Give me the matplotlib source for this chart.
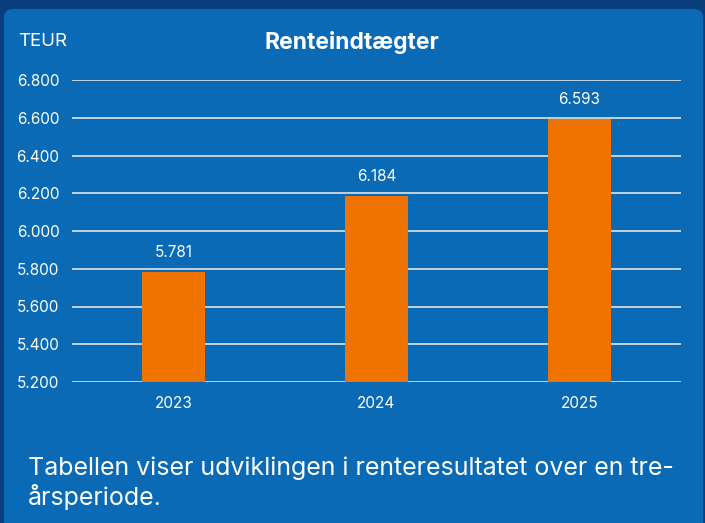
import matplotlib.pyplot as plt
from matplotlib.patches import FancyBboxPatch
from matplotlib.ticker import FuncFormatter

# data
years = ["2023", "2024", "2025"]
values = [5781, 6184, 6593]
y_ticks = [5200, 5400, 5600, 5800, 6000, 6200, 6400, 6600, 6800]

BG = "#0a3f7d"
PANEL = "#0a6ab6"
BAR = "#f07300"

plt.rcParams["font.family"] = ["Inter", "DejaVu Sans"]

fig = plt.figure(figsize=(7.05, 5.23), dpi=100)
fig.patch.set_facecolor(BG)

# rounded panel
W, H = 705, 523
panel = FancyBboxPatch((4 / W, -0.1), 699 / W, 1 - 9 / H + 0.1,
                       boxstyle="round,pad=0,rounding_size=0.015",
                       transform=fig.transFigure, facecolor=PANEL,
                       edgecolor="none", zorder=-5)
fig.patches.append(panel)

ax = fig.add_axes([72 / W, 1 - 382 / H, 609 / W, 302 / H])
ax.set_facecolor("none")
ax.set_zorder(2)


def thousands(v, pos):
    return f"{int(v):,}".replace(",", ".")


x = list(range(len(years)))
ax.bar(x, values, width=0.315, color=BAR, zorder=3)
for xi, v in zip(x, values):
    ax.annotate(thousands(v, None), (xi, v), xytext=(0, 9),
                textcoords="offset points", ha="center", va="bottom",
                color="white", fontsize=11)

ax.set_xlim(-0.5, 2.5)
ax.set_ylim(5200, 6800)
ax.set_yticks(y_ticks)
ax.yaxis.set_major_formatter(FuncFormatter(thousands))
ax.set_xticks(x)
ax.set_xticklabels(years)
ax.grid(axis="y", color="#d3d9e0", linewidth=1.3, zorder=1)
ax.set_axisbelow(True)
for s in ax.spines.values():
    s.set_visible(False)
ax.tick_params(length=0, colors="white", labelsize=11)
ax.tick_params(axis="y", pad=9)
ax.tick_params(axis="x", pad=10)

fig.text(18 / W, 1 - 42 / H, "TEUR", color="white", fontsize=13.5,
         ha="left", va="center")
fig.text(352 / W, 1 - 42 / H, "Renteindtægter", color="white", fontsize=16.5,
         fontweight="bold", ha="center", va="center")
fig.text(28 / W, 1 - 483 / H,
         "Tabellen viser udviklingen i renteresultatet over en tre-\nårsperiode.",
         color="white", fontsize=18, ha="left", va="center", linespacing=1.2)

fig.savefig("out.png", dpi=100, facecolor=fig.get_facecolor())
